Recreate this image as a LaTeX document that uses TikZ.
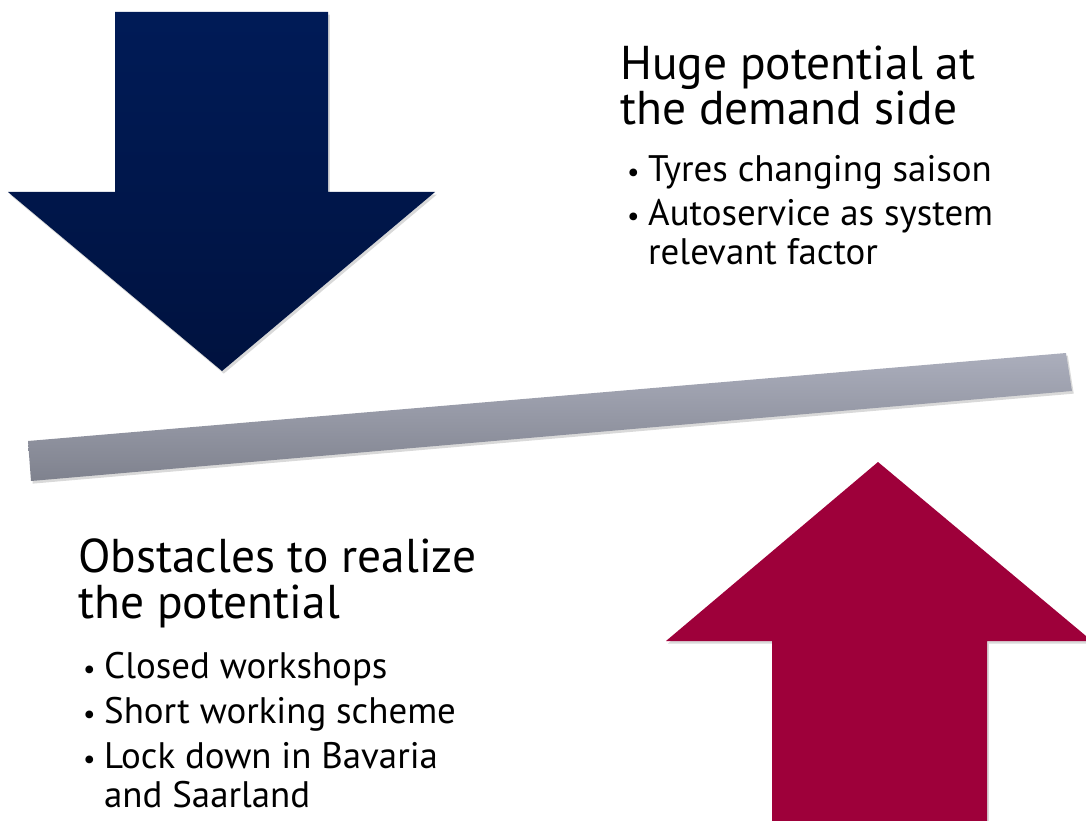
\documentclass[tikz,border=0pt]{standalone}
\usepackage{fontspec}
\setmainfont{PT Sans}
\usetikzlibrary{shadows}

\definecolor{navytop}{HTML}{001B57}
\definecolor{navybot}{HTML}{00123F}
\definecolor{crimson}{HTML}{9E003A}
\definecolor{bartop}{HTML}{ABAEBC}
\definecolor{barbot}{HTML}{7F828E}
\newcommand{\puceitem}{\makebox[13pt][l]{\hspace{1pt}\scalebox{0.75}{\textbullet}}}

\begin{document}
\begin{tikzpicture}[x=0.02cm, y=-0.02cm]
\tikzset{titre/.style={anchor=base west, inner sep=0pt, align=left,
    font=\fontsize{27}{26}\selectfont},
  puce/.style={anchor=base west, inner sep=0pt, align=left,
    font=\fontsize{21}{22}\selectfont},
  ombre/.style={drop shadow={opacity=0.3, shadow xshift=1pt, shadow yshift=-1.5pt}}}
\useasboundingbox (0,0) rectangle (1086,821);
% fleche bleue
\shade[top color=navytop, bottom color=navybot, ombre] (115,12) -- (328,12) -- (328,192) -- (435,192)
  -- (222,371) -- (8,192) -- (115,192) -- cycle;
% barre
\shade[top color=bartop, bottom color=barbot, ombre] (28,441) -- (1066,353) -- (1072,391) -- (31,481) -- cycle;
% fleche rouge
\fill[crimson, ombre] (878,462) -- (1092,641) -- (987,641) -- (987,830) -- (772,830) -- (772,641)
  -- (666,641) -- cycle;
% haut (base = derniere ligne)
\node[titre] (T1) at (620,125) {Huge potential at\\the demand side};
\node[puce] (P1) at (625,181) {\puceitem Tyres changing saison};
\node[puce] (P2) at (625,264) {\puceitem Autoservice as system\\\hspace*{13pt}relevant factor};
% bas
\node[titre] (T2) at (78,618) {Obstacles to realize\\the potential};
\node[puce] (P3) at (81,678) {\puceitem Closed workshops};
\node[puce] (P4) at (81,723) {\puceitem Short working scheme};
\node[puce] (P5) at (81,807) {\puceitem Lock down in Bavaria\\\hspace*{13pt}and Saarland};
\end{tikzpicture}
\end{document}
